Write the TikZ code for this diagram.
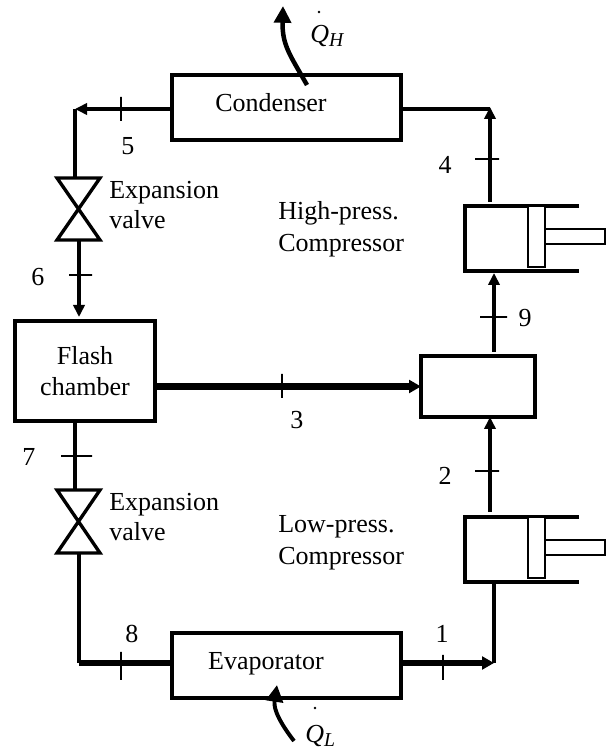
\documentclass[tikz,border=0pt]{standalone}
\usepackage{fontspec}
\setmainfont{Liberation Serif}
\usetikzlibrary{arrows.meta,positioning,calc}
\tikzset{
  unit/.style={draw=black,fill=white,line width=2.6pt,minimum width=5.725cm,
               minimum height=1.625cm,inner sep=0pt,outer sep=0pt,align=center,
               font=\fontsize{18.5}{21.5}\selectfont},
  cylframe/.style={minimum width=2.85cm,minimum height=1.625cm,inner sep=0pt,outer sep=0pt},
  cylwall/.style={line width=2.6pt,line join=miter},
  piston/.style={draw=black,fill=white,line width=1.3pt,minimum width=0.425cm,
                 minimum height=1.525cm,inner sep=0pt,outer sep=0pt},
  rod/.style={draw=black,fill=white,line width=1.3pt,minimum width=1.5cm,
              minimum height=0.375cm,inner sep=0pt,outer sep=0pt},
  valveline/.style={line width=2.4pt,line join=miter},
  pipe/.style={line width=2.8pt},
  thickpipe/.style={line width=4.6pt},
  pipearr/.style={-{Triangle[length=0.3cm,width=0.28cm]},line width=2.8pt},
  thickarr/.style={-{Triangle[length=0.3cm,width=0.32cm]},line width=4.6pt},
  heatarr/.style={-{Triangle[length=0.42cm,width=0.42cm]},line width=3.2pt},
  vtick/.style={draw=black,line width=1.1pt,minimum width=0pt,minimum height=0.6cm,
                inner sep=0pt,outer sep=0pt},
  htick/.style={draw=black,line width=1.1pt,minimum height=0pt,minimum width=0.6cm,
                inner sep=0pt,outer sep=0pt},
  lab/.style={inner sep=0pt,font=\fontsize{18.5}{21.5}\selectfont},
  twolines/.style={lab,align=left,anchor=west},
  widelines/.style={twolines,font=\fontsize{18.5}{22.7}\selectfont},
  heatdot/.style={circle,fill=black,minimum size=0.07cm,inner sep=0pt}
}
\begin{document}
\begin{tikzpicture}[x=1cm,y=1cm]
    \path[use as bounding box] (0,0) rectangle (15.15,18.725);
    % junctions
    \coordinate (bend5) at (1.875,16.0);
    \coordinate (bend4) at (12.25,16.05);
    \coordinate (elbow8) at (1.975,2.15);
    \coordinate (elbow1) at (12.35,2.15);
    \coordinate (valveAtop) at (1.875,14.275);
    \coordinate (valveAbot) at (1.975,12.725);
    \coordinate (valveBtop) at (1.875,6.475);
    \coordinate (valveBbot) at (1.975,4.9);
    \coordinate (qhstart) at (7.675,16.6);
    \coordinate (qhtip) at (7.075,18.575);
    \coordinate (qlstart) at (7.35,0.2);
    \coordinate (qltip) at (6.925,1.6);

    \node[unit] (condenser) at (7.1625,16.0375) {};
    \node[unit] (evaporator) at (7.1625,2.0875) {};
    \node[unit,minimum width=3.5cm,minimum height=2.5cm] (flash) at (2.125,9.45) {Flash\\chamber};
    \node[unit,minimum width=2.85cm,minimum height=1.525cm] (mixer) at (11.95,9.0625) {};
    \node[cylframe] (highcyl) at (13.05,12.7625) {};
    \node[cylframe] (lowcyl) at (13.05,4.9875) {};

    % compressors
    \draw[cylwall] (highcyl.north east) -- (highcyl.north west) -- (highcyl.south west) -- (highcyl.south east);
    \draw[cylwall] (lowcyl.north east) -- (lowcyl.north west) -- (lowcyl.south west) -- (lowcyl.south east);
    \node[rod] (highrod) at (14.375,12.8125) {};
    \node[rod] (lowrod) at (14.375,5.0375) {};
    \node[piston] (highpiston) at (13.4125,12.8125) {};
    \node[piston] (lowpiston) at (13.4125,5.0375) {};

    % valves
    \draw[valveline] (1.425,14.275) -- (2.5,14.275) -- (1.425,12.725) -- (2.5,12.725) -- cycle;
    \draw[valveline] (1.425,6.475) -- (2.5,6.475) -- (1.425,4.9) -- (2.5,4.9) -- cycle;

    % pipes
    \draw[pipearr] (condenser.west |- bend5) -- (bend5);
    \draw[pipe] (bend5) -- (valveAtop);
    \draw[pipearr,shorten >=0.1cm] (valveAbot) -- (valveAbot |- flash.north);
    \draw[pipe] (flash.south -| valveBtop) -- (valveBtop);
    \draw[pipe] (valveBbot) -- (elbow8);
    \draw[thickpipe] (elbow8) -- (evaporator.west |- elbow8);
    \draw[thickarr] (evaporator.east |- elbow1) -- (elbow1);
    \draw[pipe] (elbow1) -- (lowcyl.south -| elbow1);
    \draw[pipearr,shorten <=0.125cm] (lowcyl.north -| bend4) -- (mixer.south -| bend4);
    \draw[thickarr] (flash.east |- mixer.west) -- (mixer.west);
    \draw[pipearr,shorten <=0.1cm,shorten >=0.05cm] (mixer.north -| elbow1) -- (highcyl.south -| elbow1);
    \draw[pipearr,shorten <=0.1cm] (highcyl.north -| bend4) -- (bend4);
    \draw[pipe] (condenser.east |- bend5) -- (bend5 -| bend4);

    % heat flows
    \draw[heatarr] (qhstart) .. controls (7.25,17.35) and (7.05,17.6) .. (qhtip);
    \draw[heatarr,line width=2.8pt] (qlstart) .. controls (6.85,0.85) and (6.85,1.1) .. (qltip);

    % state ticks
    \node[vtick] (tick5) at (3.025,16.0) {};
    \node[htick,minimum width=0.575cm] (tick6) at (2.0125,11.85) {};
    \node[htick] (tick4) at (12.175,14.75) {};
    \node[htick,minimum width=0.675cm] (tick9) at (12.3375,10.8) {};
    \node[vtick] (tick3) at (7.05,9.075) {};
    \node[htick,minimum width=0.775cm] (tick7) at (1.9125,7.325) {};
    \node[vtick,minimum height=0.7cm] (tick8) at (3.025,2.075) {};
    \node[vtick,minimum height=0.625cm] (tick1) at (11.075,2.0375) {};
    \node[htick] (tick2) at (12.175,6.95) {};

    \node[lab] (state5) at (3.2,15.075) {5};
    \node[lab] (state6) at (0.95,11.8) {6};
    \node[lab] (state4) at (11.125,14.6) {4};
    \node[lab] (state9) at (13.125,10.775) {9};
    \node[lab] (state3) at (7.425,8.225) {3};
    \node[lab] (state7) at (0.725,7.3) {7};
    \node[lab] (state8) at (3.3,2.875) {8};
    \node[lab] (state1) at (11.05,2.875) {1};
    \node[lab] (state2) at (11.125,6.825) {2};

    \node[lab,anchor=base] (condtext) at (6.775,15.925) {Condenser};
    \node[lab,anchor=base] (evaptext) at (6.65,1.975) {Evaporator};
    \node[twolines] (valveAtext) at (2.725,13.6) {Expansion\\valve};
    \node[twolines] (valveBtext) at (2.725,5.8) {Expansion\\valve};
    \node[widelines] (hightext) at (6.95,13.0) {High-press.\\Compressor};
    \node[widelines] (lowtext) at (6.95,5.15) {Low-press.\\Compressor};

    \node[lab,anchor=base west] (qhtext) at (7.75,17.65)
      {\textit{Q}\raisebox{-0.12em}{\fontsize{14}{14}\selectfont\textit{H}}};
    \node[lab,anchor=base west] (qltext) at (7.625,0.15)
      {\textit{Q}\raisebox{-0.12em}{\fontsize{14}{14}\selectfont\textit{L}}};
    \node[heatdot] (qhdot) at (7.975,18.425) {};
    \node[heatdot] (qldot) at (7.875,1.025) {};
\end{tikzpicture}
\end{document}
